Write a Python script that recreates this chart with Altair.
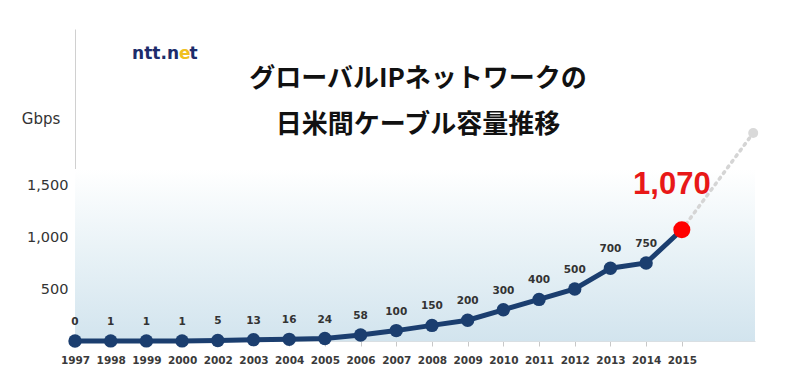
import altair as alt
import pandas as pd

years = [1997, 1998, 1999, 2000, 2002, 2003, 2004, 2005, 2006, 2007,
         2008, 2009, 2010, 2011, 2012, 2013, 2014, 2015]
capacity = [0, 1, 1, 1, 5, 13, 16, 24, 58, 100, 150, 200, 300, 400, 500, 700, 750, 1070]
proj_pos = [17, 19]
proj_val = [1070, 2000]
y_ticks = [500, 1000, 1500]
title_lines = ["グローバルIPネットワークの", "日米間ケーブル容量推移"]
highlight_label = "1,070"

idx = list(range(len(years)))
df = pd.DataFrame({"idx": idx, "year": years, "value": capacity})
df["label"] = [str(v) for v in capacity]
df_main = df.iloc[:-1]
df_last = df.iloc[-1:]
df_proj = pd.DataFrame({"idx": proj_pos, "value": proj_val})
df_proj_pt = df_proj.iloc[-1:]

W, H = 680, 312
FONT = "DejaVu Sans"
label_expr = "[" + ",".join(f"'{y}'" for y in years) + "][datum.value]"

x = alt.X("idx:Q",
          scale=alt.Scale(domain=[0, 19.05], nice=False, zero=False),
          axis=alt.Axis(values=idx, labelExpr=label_expr, title=None, grid=False,
                        labelOverlap=False, labelFlush=False,
                        domainColor="#d9dfe3", tickColor="#c8c8c8", tickSize=5,
                        labelPadding=9, labelFont=FONT, labelFontSize=10.5,
                        labelFontWeight="bold", labelColor="#3a3a3a"))
y = alt.Y("value:Q",
          scale=alt.Scale(domain=[0, 3000], nice=False),
          axis=alt.Axis(values=y_ticks, format=",.0f", title=None, grid=False,
                        labelOverlap=False, labelFlush=False,
                        domainColor="#d0d0d0", ticks=False, labelPadding=7,
                        labelFont=FONT, labelFontSize=14.5, labelColor="#333333"))

base = alt.Chart(df)

bg = alt.Chart(pd.DataFrame({"a": [0]})).mark_rect(
    fill=alt.Gradient(gradient="linear", x1=0, y1=1, x2=0, y2=0,
                      stops=[alt.GradientStop(offset=0, color="#d2e4ee"),
                             alt.GradientStop(offset=0.55, color="#eaf3f7"),
                             alt.GradientStop(offset=1, color="#ffffff")])
).encode(x=alt.value(0), x2=alt.value(W), y=alt.value(H), y2=alt.value(140))

proj_line = alt.Chart(df_proj).mark_line(
    color="#d5d5d5", strokeWidth=3.5, strokeDash=[2, 5], strokeCap="round"
).encode(x=x, y=y)
proj_point = alt.Chart(df_proj_pt).mark_circle(
    size=100, color="#d9d9d9", opacity=1
).encode(x=x, y=y)

line = base.mark_line(color="#1b3e6f", strokeWidth=5).encode(x=x, y=y)
points = alt.Chart(df_main).mark_circle(size=180, color="#1b3e6f", opacity=1).encode(x=x, y=y)
red_point = alt.Chart(df_last).mark_circle(size=290, color="#ff0000", opacity=1).encode(x=x, y=y)

labels = alt.Chart(df_main).mark_text(
    dy=-19, font=FONT, fontSize=10.5, fontWeight="bold", color="#333333"
).encode(x=x, y=y, text="label:N")
red_label = alt.Chart(df_last).mark_text(
    dx=-10, dy=-45, font="Liberation Sans", fontSize=31, fontWeight="bold", color="#e81818"
).encode(x=x, y=y, text=alt.value(highlight_label))

ann = pd.DataFrame({"a": [0]})
t1 = alt.Chart(ann).mark_text(font="Noto Sans CJK JP", fontSize=26, fontWeight="bold",
                              color="#111111").encode(
    x=alt.value(343), y=alt.value(50), text=alt.value(title_lines[0]))
t2 = alt.Chart(ann).mark_text(font="Noto Sans CJK JP", fontSize=26, fontWeight="bold",
                              color="#111111").encode(
    x=alt.value(343), y=alt.value(96), text=alt.value(title_lines[1]))
gbps = alt.Chart(ann).mark_text(font=FONT, fontSize=15, color="#333333").encode(
    x=alt.value(-34), y=alt.value(90), text=alt.value("Gbps"))
logo1 = alt.Chart(ann).mark_text(font=FONT, fontSize=17, fontWeight="bold",
                                 color="#1d2c6b", align="right").encode(
    x=alt.value(104), y=alt.value(25), text=alt.value("ntt.n"))
logo2 = alt.Chart(ann).mark_text(font=FONT, fontSize=17, fontWeight="bold",
                                 color="#f0c020", align="left").encode(
    x=alt.value(104), y=alt.value(25), text=alt.value("e"))
logo3 = alt.Chart(ann).mark_text(font=FONT, fontSize=17, fontWeight="bold",
                                 color="#1d2c6b", align="left").encode(
    x=alt.value(114.5), y=alt.value(25), text=alt.value("t"))

chart = alt.layer(
    bg, proj_line, proj_point, line, points, red_point, labels, red_label,
    t1, t2, gbps, logo1, logo2, logo3
).properties(
    width=W, height=H,
    padding={"left": 67, "top": 21, "right": 37, "bottom": 29},
    autosize=alt.AutoSizeParams(type="none"),
    background="white"
).configure_view(stroke=None)

chart.save("out.html", embed_options={"renderer": "svg", "actions": False})
